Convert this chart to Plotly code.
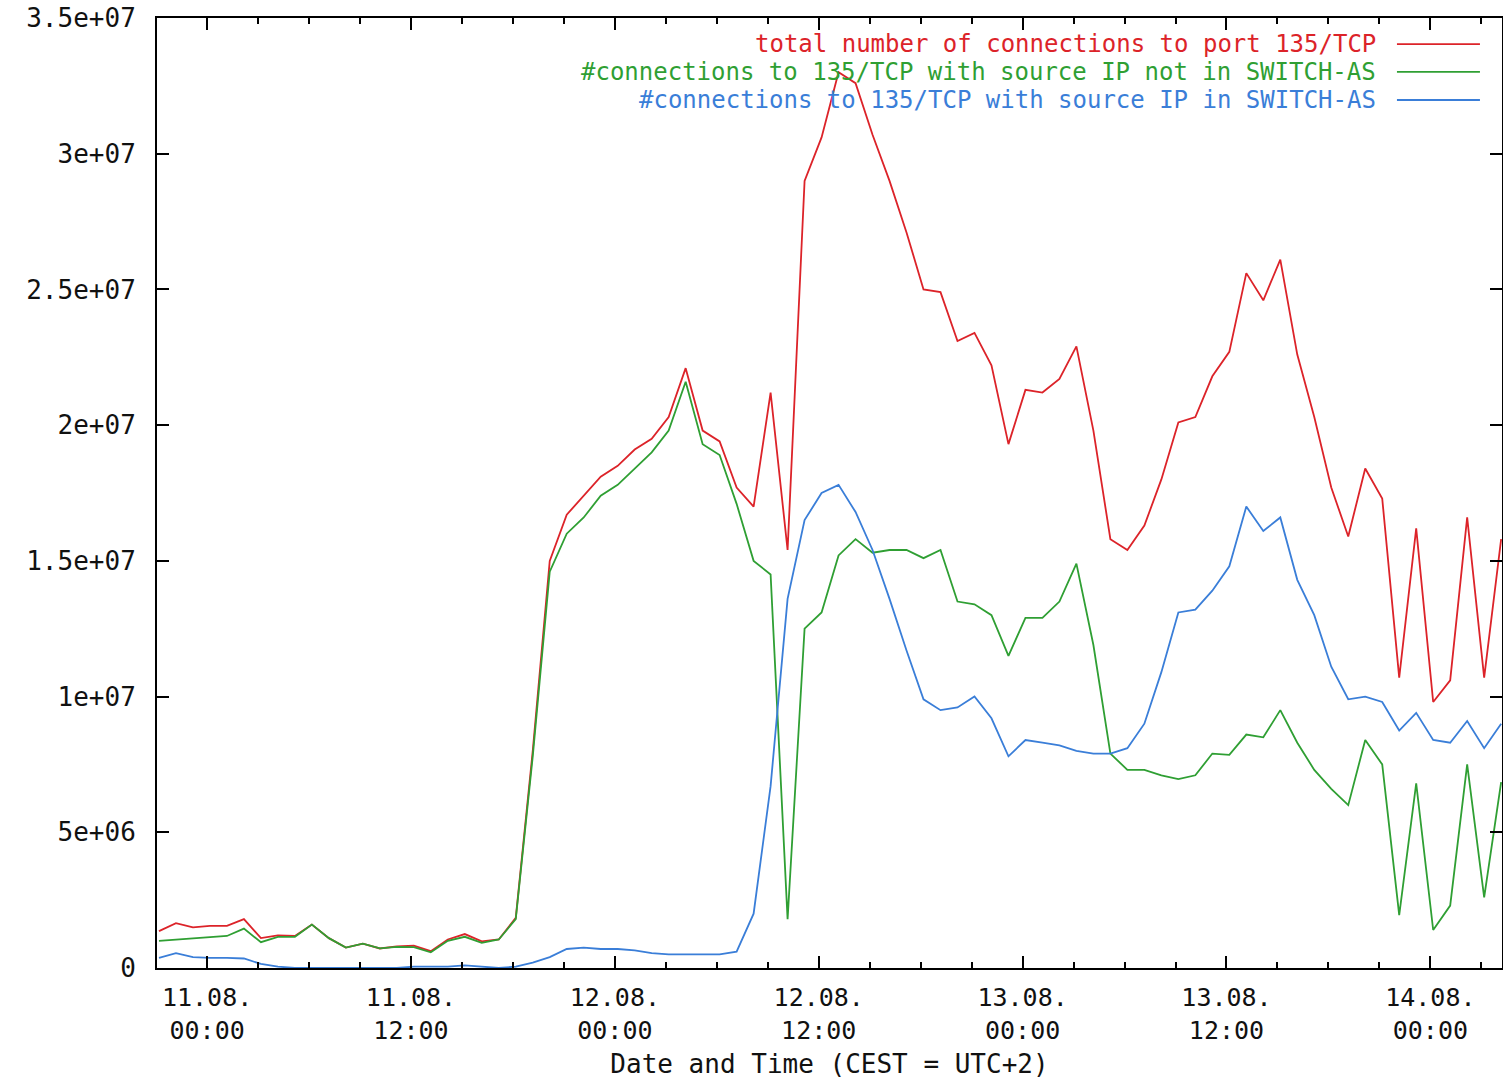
import plotly.graph_objects as go
import pandas as pd

# hourly samples, 10.08.2003 21:10 .. 14.08.2003 04:10 (values in millions)
times = pd.date_range("2003-08-10 21:10", periods=80, freq="h")

total_m = [1.36, 1.65, 1.5, 1.55, 1.55, 1.8, 1.1, 1.2, 1.18, 1.6,
           1.1, 0.75, 0.9, 0.72, 0.8, 0.82, 0.62, 1.05, 1.25, 0.98,
           1.05, 1.85, 8.0, 15.0, 16.7, 17.4, 18.1, 18.5, 19.1, 19.5,
           20.3, 22.1, 19.8, 19.4, 17.7, 17.0, 21.2, 15.4, 29.0, 30.6,
           33.0, 32.6, 30.7, 29.0, 27.1, 25.0, 24.9, 23.1, 23.4, 22.2,
           19.3, 21.3, 21.2, 21.7, 22.9, 19.8, 15.8, 15.4, 16.3, 18.0,
           20.1, 20.3, 21.8, 22.7, 25.6, 24.6, 26.1, 22.6, 20.3, 17.7,
           15.9, 18.4, 17.3, 10.7, 16.2, 9.8, 10.6, 16.6, 10.7, 15.8]

outside_m = [1.0, 1.05, 1.1, 1.15, 1.18, 1.45, 0.95, 1.15, 1.15, 1.6,
             1.1, 0.75, 0.9, 0.72, 0.78, 0.77, 0.58, 1.0, 1.15, 0.93,
             1.05, 1.8, 7.8, 14.6, 16.0, 16.6, 17.4, 17.8, 18.4, 19.0,
             19.8, 21.6, 19.3, 18.9, 17.1, 15.0, 14.5, 1.8, 12.5, 13.1,
             15.2, 15.8, 15.3, 15.4, 15.4, 15.1, 15.4, 13.5, 13.4, 13.0,
             11.5, 12.9, 12.9, 13.5, 14.9, 11.9, 7.9, 7.3, 7.3, 7.1,
             6.96, 7.1, 7.9, 7.85, 8.6, 8.5, 9.5, 8.3, 7.3, 6.6,
             6.0, 8.4, 7.5, 1.95, 6.8, 1.4, 2.3, 7.5, 2.6, 6.85]

inside_m = [0.37, 0.55, 0.4, 0.37, 0.37, 0.35, 0.15, 0.05, 0.0, 0.0,
            0.0, 0.0, 0.0, 0.0, 0.0, 0.05, 0.04, 0.05, 0.1, 0.05,
            0.0, 0.05, 0.2, 0.4, 0.7, 0.75, 0.7, 0.7, 0.65, 0.55,
            0.5, 0.5, 0.5, 0.5, 0.6, 2.0, 6.7, 13.6, 16.5, 17.5,
            17.8, 16.8, 15.4, 13.6, 11.7, 9.9, 9.5, 9.6, 10.0, 9.2,
            7.8, 8.4, 8.3, 8.2, 8.0, 7.9, 7.9, 8.1, 9.0, 10.9,
            13.1, 13.2, 13.9, 14.8, 17.0, 16.1, 16.6, 14.3, 13.0, 11.1,
            9.9, 10.0, 9.8, 8.75, 9.4, 8.4, 8.3, 9.1, 8.1, 9.0]

series_names = ["total number of connections to port 135/TCP",
                "#connections to 135/TCP with source IP not in SWITCH-AS",
                "#connections to 135/TCP with source IP in SWITCH-AS"]
series_colors = ["#dc2329", "#2f9f33", "#3a7ed8"]

x_tickvals = ["2003-08-11 00:00", "2003-08-11 12:00", "2003-08-12 00:00",
              "2003-08-12 12:00", "2003-08-13 00:00", "2003-08-13 12:00",
              "2003-08-14 00:00"]
x_ticktext = ["11.08.<br>00:00", "11.08.<br>12:00", "12.08.<br>00:00",
              "12.08.<br>12:00", "13.08.<br>00:00", "13.08.<br>12:00",
              "14.08.<br>00:00"]
y_tickvals = [0, 5e6, 1e7, 1.5e7, 2e7, 2.5e7, 3e7, 3.5e7]
y_ticktext = ["0", "5e+06", "1e+07", "1.5e+07", "2e+07", "2.5e+07", "3e+07", "3.5e+07"]

FONT = "DejaVu Sans Mono"
fig = go.Figure()
for name, vals, col in zip(series_names, [total_m, outside_m, inside_m], series_colors):
    fig.add_trace(go.Scatter(x=times, y=[v * 1e6 for v in vals], mode="lines",
                             name=name, line=dict(color=col, width=1.8)))

# gnuplot-style key: right-aligned text with line sample on the right
key_y = [0.9726, 0.9432, 0.9137]
for name, col, ky in zip(series_names, series_colors, key_y):
    fig.add_annotation(x=0.9078, y=ky, xref="paper", yref="paper", text=name,
                       showarrow=False, xanchor="right", yanchor="middle",
                       font=dict(family=FONT, size=24, color=col))
    fig.add_shape(type="line", xref="paper", yref="paper", x0=0.9219, x1=0.9836,
                  y0=ky, y1=ky, line=dict(color=col, width=1.8))

fig.update_layout(
    width=1503, height=1079,
    margin=dict(l=157, r=1, t=18, b=111),
    plot_bgcolor="white", paper_bgcolor="white",
    showlegend=False,
    font=dict(family=FONT, size=25, color="#111111"),
)
fig.update_xaxes(
    type="date", range=["2003-08-10 21:03", "2003-08-14 04:13"],
    tickmode="array", tickvals=x_tickvals, ticktext=x_ticktext,
    ticks="inside", ticklen=12, tickwidth=2, tickcolor="black",
    showline=True, linecolor="black", linewidth=2, mirror="allticks",
    showgrid=False, zeroline=False, automargin=False, ticklabelstandoff=6,
    ticklabeloverflow="allow",
    tickfont=dict(family=FONT, size=25, color="#111111"),
    minor=dict(dtick=3 * 3600 * 1000, tick0="2003-08-11 00:00", ticks="inside",
               ticklen=6, tickwidth=2, tickcolor="black", showgrid=False),
    title=dict(text="Date and Time (CEST = UTC+2)", standoff=12,
               font=dict(family=FONT, size=26, color="#111111")),
)
fig.update_yaxes(
    range=[0, 3.5e7], tickmode="array", tickvals=y_tickvals, ticktext=y_ticktext,
    ticks="inside", ticklen=12, tickwidth=2, tickcolor="black",
    showline=True, linecolor="black", linewidth=2, mirror="allticks",
    showgrid=False, zeroline=False, automargin=False, ticklabelstandoff=14,
    ticklabeloverflow="allow",
    tickfont=dict(family=FONT, size=26, color="#111111"),
)

# remove the default page margin so the figure sits at the window origin
fig.write_html("out.html",
               config={"displayModeBar": False},
               post_script="document.body.style.margin='0';"
                           "document.documentElement.style.overflow='hidden';")
